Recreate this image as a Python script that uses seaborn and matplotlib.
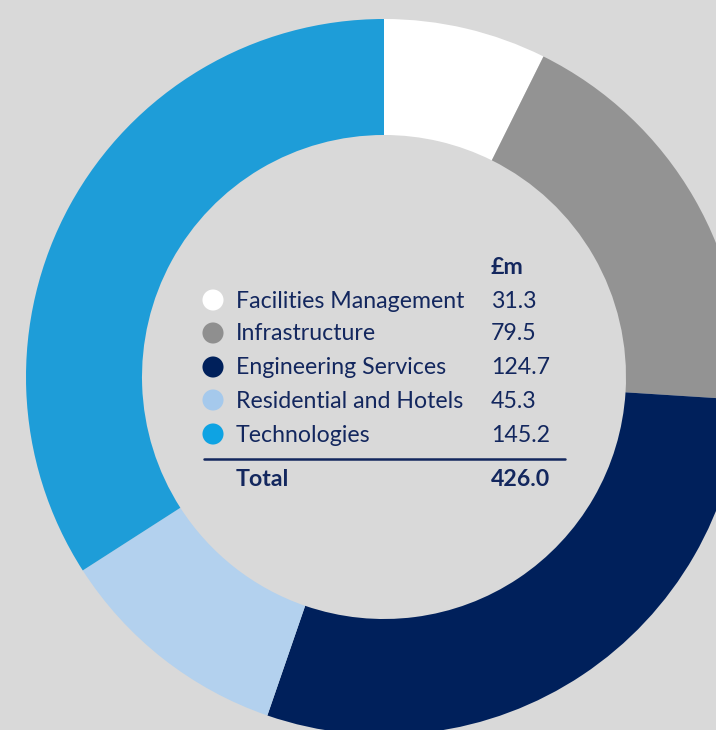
import matplotlib
matplotlib.use("Agg")
import matplotlib.pyplot as plt
import seaborn as sns
import pandas as pd

segments = ["Facilities Management", "Infrastructure", "Engineering Services",
            "Residential and Hotels", "Technologies"]
values = [31.3, 79.5, 124.7, 45.3, 145.2]
value_labels = ["31.3", "79.5", "124.7", "45.3", "145.2"]
total_label = "426.0"
colors = ["#ffffff", "#939393", "#00205b", "#b3d1ee", "#1e9dd8"]
dot_colors = ["#ffffff", "#8f8f8f", "#00205b", "#a5c9ec", "#0ea3e3"]

bg = "#d9d9d9"
navy = "#13275e"

sns.set_style("white")
plt.rcParams["font.family"] = ["Lato", "DejaVu Sans"]

fig = plt.figure(figsize=(7.16, 7.30), dpi=100)
fig.patch.set_facecolor(bg)
ax = fig.add_axes([0, 0, 1, 1])
ax.set_facecolor(bg)

# donut, clockwise from 12 o'clock
ax.pie(values, colors=colors, startangle=90, counterclock=False, radius=1,
       wedgeprops=dict(width=0.324, linewidth=0))

# pixel -> data helpers (center at 384,377, radius 358 px)
S = 358.0
def px(x):
    return (x - 384) / S
def py(y):
    return (377 - y) / S

row_y = [301, 334, 368, 401, 435]
legend_df = pd.DataFrame({"x": [px(213)] * len(segments),
                          "y": [py(r - 1) for r in row_y],
                          "seg": segments})
sns.scatterplot(data=legend_df, x="x", y="y", hue="seg", palette=dot_colors,
                s=230, linewidth=0, legend=False, ax=ax, zorder=5)

fs = 16.7
for lab, val, r in zip(segments, value_labels, row_y):
    ax.text(px(236), py(r), lab, color=navy, fontsize=fs, va="center", ha="left")
    ax.text(px(491), py(r), val, color=navy, fontsize=fs, va="center", ha="left")

ax.text(px(491), py(268), "£m", color=navy, fontsize=fs, fontweight="bold",
        va="center", ha="left")
ax.plot([px(204), px(565)], [py(459), py(459)], color=navy, lw=1.8)
ax.text(px(236), py(479), "Total", color=navy, fontsize=fs, fontweight="bold",
        va="center", ha="left")
ax.text(px(491), py(479), total_label, color=navy, fontsize=fs, fontweight="bold",
        va="center", ha="left")

ax.set_aspect("auto")
ax.set_xlim(px(0), px(716))
ax.set_ylim(py(730), py(0))
ax.axis("off")

fig.savefig("out.png", dpi=100, facecolor=bg)
